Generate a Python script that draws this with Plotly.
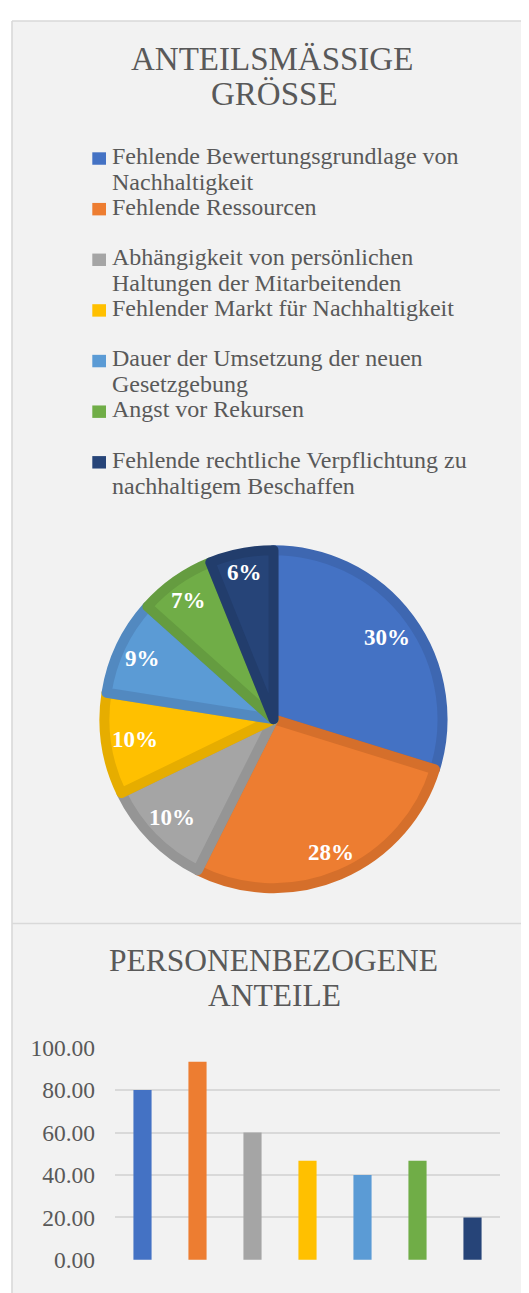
import math
import plotly.graph_objects as go

W, H = 529, 1293
OFF = 8  # page offset of the figure (body margin)

# ---------------- data ----------------
categories = [
    "Fehlende Bewertungsgrundlage von Nachhaltigkeit",
    "Fehlende Ressourcen",
    "Abhängigkeit von persönlichen Haltungen der Mitarbeitenden",
    "Fehlender Markt für Nachhaltigkeit",
    "Dauer der Umsetzung der neuen Gesetzgebung",
    "Angst vor Rekursen",
    "Fehlende rechtliche Verpflichtung zu nachhaltigem Beschaffen",
]
legend_lines = [
    ["Fehlende Bewertungsgrundlage von", "Nachhaltigkeit"],
    ["Fehlende Ressourcen"],
    ["Abhängigkeit von persönlichen", "Haltungen der Mitarbeitenden"],
    ["Fehlender Markt für Nachhaltigkeit"],
    ["Dauer der Umsetzung der neuen", "Gesetzgebung"],
    ["Angst vor Rekursen"],
    ["Fehlende rechtliche Verpflichtung zu", "nachhaltigem Beschaffen"],
]
pie_values = [29.8, 27.6, 10.4, 9.7, 9.1, 7.3, 6.1]
bar_values = [80.0, 93.33, 60.0, 46.67, 40.0, 46.67, 20.0]
y_ticks = [0, 20, 40, 60, 80, 100]

title_pie = ["ANTEILSMÄSSIGE", "GRÖSSE"]
title_bar = ["PERSONENBEZOGENE", "ANTEILE"]

colors = ["#4472C4", "#ED7D31", "#A5A5A5", "#FFC000", "#5B9BD5", "#70AD47", "#264478"]
border_colors = ["#3E67B1", "#D56F2B", "#959595", "#E6AD00", "#5289C0", "#659C40", "#223D6C"]

FONT = "Liberation Serif"
TXT = "#595959"


def px(x):
    """page x pixel -> paper coordinate"""
    return (x - OFF) / W


def py(y):
    """page y pixel -> paper coordinate"""
    return 1 - (y - OFF) / H


fig = go.Figure()

# ---------------- pie ----------------
PCX, PCY = 273.5, 720.5     # pie centre (page px)
R_OUT = 177.5               # visible outer radius incl. border
LINE_W = 10
R_PIE = R_OUT - LINE_W / 2

fig.add_trace(go.Pie(
    labels=categories,
    values=pie_values,
    sort=False,
    direction="clockwise",
    rotation=0,
    marker=dict(colors=colors, line=dict(color=border_colors, width=LINE_W)),
    textinfo="none",
    domain=dict(x=[px(PCX - R_PIE), px(PCX + R_PIE)],
                y=[py(PCY + R_PIE), py(PCY - R_PIE)]),
    showlegend=False,
    hoverinfo="label+percent",
))

# ---------------- bars ----------------
fig.add_trace(go.Bar(
    x=categories,
    y=bar_values,
    marker=dict(color=colors, line=dict(width=0)),
    showlegend=False,
    xaxis="x",
    yaxis="y",
))

fig.update_layout(
    width=W,
    height=H,
    margin=dict(l=0, r=0, t=0, b=0),
    paper_bgcolor="white",
    plot_bgcolor="rgba(0,0,0,0)",
    bargap=0.67,
    xaxis=dict(
        domain=[px(115), px(500)],
        anchor="y",
        showticklabels=False,
        showgrid=False,
        zeroline=False,
        showline=False,
        ticks="",
    ),
    yaxis=dict(
        domain=[py(1272.3), py(1055.7)],
        anchor="x",
        range=[0, 100],
        tickvals=y_ticks,
        tickformat=".2f",
        tickfont=dict(family=FONT, size=23.5, color=TXT),
        ticklabelstandoff=19,
        showgrid=True,
        gridcolor="#D9D9D9",
        gridwidth=1.6,
        zeroline=False,
        showline=False,
        ticks="",
    ),
)

shapes = []
# panel background and borders
shapes.append(dict(type="rect", xref="paper", yref="paper", layer="below",
                   x0=px(12), x1=px(W + 20), y0=py(H + 20), y1=py(8),
                   fillcolor="#F2F2F2", line=dict(width=0)))
border = dict(color="#D9D9D9", width=1.6)
shapes.append(dict(type="line", xref="paper", yref="paper", layer="below",
                   x0=px(12), x1=px(W + 20), y0=py(8), y1=py(8), line=border))
shapes.append(dict(type="line", xref="paper", yref="paper", layer="below",
                   x0=px(12), x1=px(12), y0=py(8), y1=py(H + 20), line=border))
shapes.append(dict(type="line", xref="paper", yref="paper", layer="below",
                   x0=px(12), x1=px(W + 20), y0=py(929), y1=py(929), line=border))

annotations = []


def text_line(txt, x, baseline, size, xanchor="center", color=TXT):
    annotations.append(dict(
        text=txt, x=px(x), y=py(baseline - 0.39 * size), xref="paper", yref="paper",
        xanchor=xanchor, yanchor="middle", showarrow=False,
        font=dict(family=FONT, size=size, color=color),
    ))


# titles
text_line(title_pie[0], 272, 59.5, 33)
text_line(title_pie[1], 274, 95, 33)
text_line(title_bar[0], 273, 979.5, 31.5)
text_line(title_bar[1], 274, 1015, 31.5)

# legend (manual, Excel-like spacing)
for k, lines in enumerate(legend_lines):
    base = 155 + 51.67 * k
    shapes.append(dict(type="rect", xref="paper", yref="paper",
                       x0=px(92.3), x1=px(106), y0=py(base - 0.3), y1=py(base - 13),
                       fillcolor=colors[k], line=dict(width=0)))
    for j, ln in enumerate(lines):
        text_line(ln, 110, base + 26.5 * j, 24, xanchor="left")

# pie percentage labels at the inside end of each slice bisector
total = sum(pie_values)
cum = 0.0
for v in pie_values:
    mid = (cum + v / 2) / total * 2 * math.pi
    cum += v
    lbl = f"{round(100 * v / total)}%"
    w = 11.5 * (len(lbl) - 1) + 23
    ext = abs(math.sin(mid)) * w / 2 + abs(math.cos(mid)) * 17 / 2
    r = R_OUT - 13 - ext
    annotations.append(dict(
        text=lbl, x=px(PCX + r * math.sin(mid)), y=py(PCY - r * math.cos(mid)),
        xref="paper", yref="paper", xanchor="center", yanchor="middle", showarrow=False,
        font=dict(family=FONT, size=23, color="white", weight="bold"),
    ))

fig.update_layout(shapes=shapes, annotations=annotations)

fig.write_html("out.html")
